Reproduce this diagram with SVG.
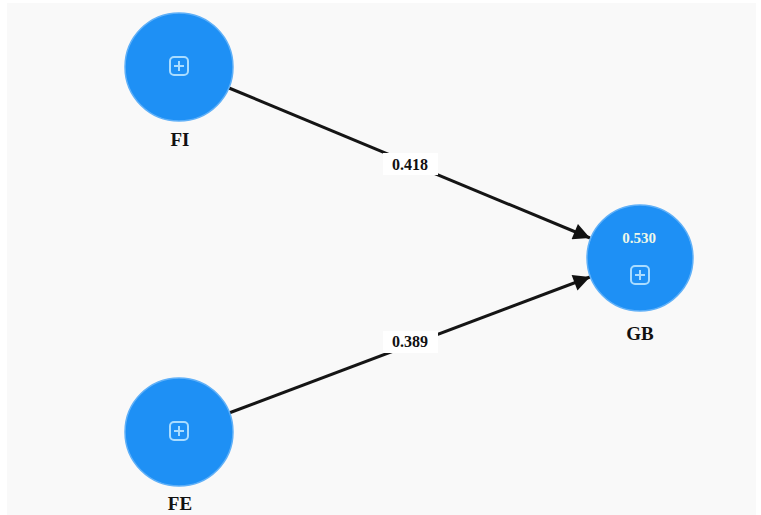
<svg xmlns="http://www.w3.org/2000/svg" width="761" height="515" viewBox="0 0 761 515">
<defs>
<style>
.node{fill:#1e90f5;stroke:#5fb0f8;stroke-width:1.5}
.icon{fill:none;stroke:#a9dcff;stroke-width:2}
.lbl{font-family:"Liberation Serif","Times New Roman",serif;font-weight:bold;font-size:19px;fill:#111;text-anchor:middle}
.elbl{font-family:"Liberation Serif","Times New Roman",serif;font-weight:bold;font-size:16px;fill:#111;text-anchor:middle}
.r2{font-family:"Liberation Serif","Times New Roman",serif;font-weight:bold;font-size:15px;fill:#eef8e8;text-anchor:middle}
.edge{stroke:#151515;stroke-width:3;fill:none}
</style>
<marker id="arr" viewBox="0 0 10 10" refX="10" refY="5" markerWidth="6.5" markerHeight="5.5" markerUnits="strokeWidth" orient="auto">
<path d="M0,0 L10,5 L0,10 z" fill="#111"/>
</marker>
<g id="plus">
<rect x="-9" y="-9" width="18" height="18" rx="4" class="icon"/>
<path d="M0,-5 V5 M-5,0 H5" class="icon"/>
</g>
</defs>
<rect width="761" height="515" fill="#ffffff"/>
<rect x="7" y="3" width="749" height="512" fill="#f9f9f9"/>
<g id="connectors">
<line x1="229" y1="88" x2="590" y2="238" class="edge" marker-end="url(#arr)"/>
<line x1="229" y1="413" x2="590" y2="277" class="edge" marker-end="url(#arr)"/>
<rect x="383" y="153" width="55" height="22" fill="#ffffff"/>
<text x="410" y="170" class="elbl">0.418</text>
<rect x="383" y="331" width="55" height="22" fill="#ffffff"/>
<text x="410" y="347" class="elbl">0.389</text>
</g>
<g id="FI">
<circle cx="179" cy="67" r="54" class="node"/>
<use href="#plus" x="179" y="66"/>
<text x="180" y="146" class="lbl">FI</text>
</g>
<g id="FE">
<circle cx="179" cy="432" r="54" class="node"/>
<use href="#plus" x="179" y="431"/>
<text x="180" y="510" class="lbl">FE</text>
</g>
<g id="GB">
<circle cx="640" cy="258" r="53" class="node"/>
<text x="639" y="243" class="r2">0.530</text>
<use href="#plus" x="640" y="275"/>
<text x="640" y="340" class="lbl">GB</text>
</g>
</svg>
